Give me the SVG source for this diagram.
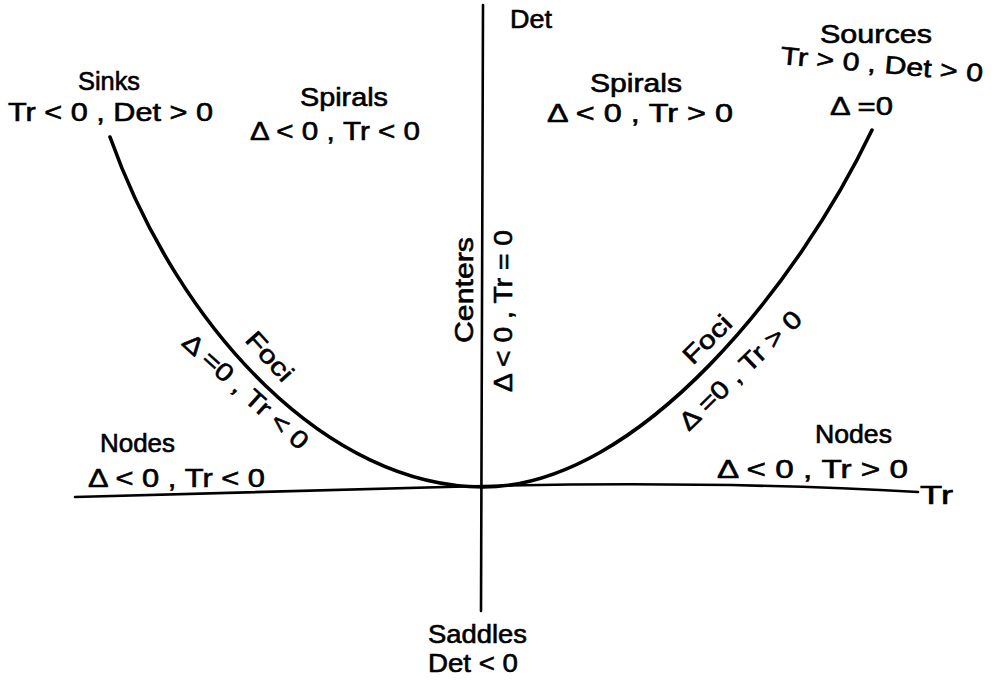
<svg xmlns="http://www.w3.org/2000/svg" width="999" height="682" viewBox="0 0 999 682">
<style>
text{font-family:"Liberation Sans",Arial,sans-serif;font-size:25px;fill:#000;stroke:#000;stroke-width:0.6}
.ax{fill:none;stroke:#000;stroke-width:2.6;stroke-linecap:round}
.cv{fill:none;stroke:#000;stroke-width:3.6;stroke-linecap:round}
</style>
<rect width="999" height="682" fill="#fff"/>
<g id="connectors">
<path class="ax" d="M483,5 L481,611"/>
<path class="ax" d="M75,497 L483,486 C620,483 780,484 918,492"/>
<path class="cv" d="M110,137 C180,333 330,487 483,487 C640,487 800,281 872,130"/>
</g>
<g id="det-label"><text x="510" y="28" textLength="42" lengthAdjust="spacingAndGlyphs">Det</text></g>
<g id="tr-label"><text x="920" y="504" textLength="33" lengthAdjust="spacingAndGlyphs">Tr</text></g>
<g id="sinks">
<text x="78" y="90" textLength="62" lengthAdjust="spacingAndGlyphs">Sinks</text>
<text x="8" y="121" textLength="205" lengthAdjust="spacingAndGlyphs">Tr &lt; 0 , Det &gt; 0</text>
</g>
<g id="spirals-left">
<text x="300" y="106" textLength="88" lengthAdjust="spacingAndGlyphs">Spirals</text>
<text x="250" y="140" textLength="170" lengthAdjust="spacingAndGlyphs">Δ &lt; 0 , Tr &lt; 0</text>
</g>
<g id="spirals-right">
<text x="590" y="92" textLength="92" lengthAdjust="spacingAndGlyphs">Spirals</text>
<text x="547" y="122" textLength="186" lengthAdjust="spacingAndGlyphs">Δ &lt; 0 , Tr &gt; 0</text>
</g>
<g id="sources">
<text x="820" y="43" textLength="112" lengthAdjust="spacingAndGlyphs">Sources</text>
<text x="780" y="64" transform="rotate(5 780 64)" textLength="203" lengthAdjust="spacingAndGlyphs">Tr &gt; 0 , Det &gt; 0</text>
<text x="830" y="115" textLength="63" lengthAdjust="spacingAndGlyphs">Δ =0</text>
</g>
<g id="foci-left">
<text transform="translate(270,356) rotate(48)" x="0" y="9" text-anchor="middle" textLength="58" lengthAdjust="spacingAndGlyphs">Foci</text>
<text transform="translate(246,391) rotate(42)" x="0" y="9" text-anchor="middle" textLength="160" lengthAdjust="spacingAndGlyphs">Δ =0 , Tr &lt; 0</text>
</g>
<g id="foci-right">
<text transform="translate(707,339) rotate(-45)" x="0" y="9" text-anchor="middle" textLength="58" lengthAdjust="spacingAndGlyphs">Foci</text>
<text transform="translate(740,370) rotate(-44)" x="0" y="9" text-anchor="middle" textLength="160" lengthAdjust="spacingAndGlyphs">Δ =0 , Tr &gt; 0</text>
</g>
<g id="centers">
<text transform="translate(465,290) rotate(-90)" x="0" y="8" text-anchor="middle" textLength="106" lengthAdjust="spacingAndGlyphs">Centers</text>
<text transform="translate(503,311) rotate(-90)" x="0" y="9" text-anchor="middle" textLength="162" lengthAdjust="spacingAndGlyphs">Δ &lt; 0 , Tr = 0</text>
</g>
<g id="nodes-left">
<text x="100" y="452" textLength="75" lengthAdjust="spacingAndGlyphs">Nodes</text>
<text x="88" y="487" textLength="177" lengthAdjust="spacingAndGlyphs">Δ &lt; 0 , Tr &lt; 0</text>
</g>
<g id="nodes-right">
<text x="815" y="443" textLength="77" lengthAdjust="spacingAndGlyphs">Nodes</text>
<text x="717" y="478" textLength="191" lengthAdjust="spacingAndGlyphs">Δ &lt; 0 , Tr &gt; 0</text>
</g>
<g id="saddles">
<text x="428" y="643" textLength="99" lengthAdjust="spacingAndGlyphs">Saddles</text>
<text x="428" y="672" textLength="90" lengthAdjust="spacingAndGlyphs">Det &lt; 0</text>
</g>
</svg>
